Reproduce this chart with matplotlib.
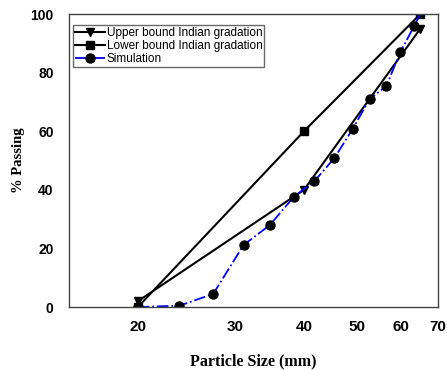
import matplotlib
matplotlib.use("Agg")
import matplotlib.pyplot as plt
from matplotlib.ticker import FixedLocator, NullLocator

# Datos
upper_x = [20, 40, 65]
upper_y = [2, 40, 95]

lower_x = [20, 40, 65]
lower_y = [0, 60, 100]

sim_x = [20, 23.8, 27.4, 31.1, 34.7, 38.3, 41.8, 45.4, 49.0, 52.6, 56.4, 59.8, 63.4, 65]
sim_y = [0, 0.5, 4.5, 21.2, 28, 37.5, 43, 50.8, 60.7, 71, 75.4, 87, 96, 100]

x_ticks = [20, 30, 40, 50, 60, 70]
y_ticks = [0, 20, 40, 60, 80, 100]

plt.rcParams['font.family'] = ['Liberation Sans', 'DejaVu Sans']

fig, ax = plt.subplots(figsize=(4.47, 3.70), dpi=100)
fig.subplots_adjust(left=0.154, right=0.98, top=0.962, bottom=0.170)

ax.plot(upper_x, upper_y, color='black', lw=1.5, marker='v', ms=6,
        label='Upper bound Indian gradation')
ax.plot(lower_x, lower_y, color='black', lw=1.5, marker='s', ms=6,
        label='Lower bound Indian gradation')
ax.plot(sim_x, sim_y, color='blue', lw=1.3, ls='-.', marker='o', ms=6.5,
        mfc='black', mec='black', markevery=list(range(len(sim_x) - 1)),
        label='Simulation')

ax.set_xscale('log')
ax.set_xlim(15, 70)
ax.set_ylim(0, 100)
ax.xaxis.set_major_locator(FixedLocator(x_ticks))
ax.xaxis.set_minor_locator(NullLocator())
ax.set_xticklabels([str(t) for t in x_ticks])
ax.set_yticks(y_ticks)
ax.tick_params(axis='both', length=0)
ax.tick_params(axis='y', pad=11, labelsize=10)
ax.tick_params(axis='x', pad=9, labelsize=11)
for lab in ax.get_xticklabels() + ax.get_yticklabels():
    lab.set_fontweight('bold')

for s in ax.spines.values():
    s.set_color('#444444')
    s.set_linewidth(1.0)

ax.set_xlabel('Particle Size (mm)', family='Liberation Serif', fontweight='bold',
              fontsize=11.5, labelpad=14)
ax.set_ylabel('% Passing', family='Liberation Serif', fontweight='bold',
              fontsize=10.5)
ax.yaxis.set_label_coords(-0.119, 0.5)

leg = ax.legend(loc='upper left', bbox_to_anchor=(0.011, 0.9625),
                fontsize=8.5, frameon=True, fancybox=False,
                handlelength=2.6, handletextpad=0.1, labelspacing=0.1,
                borderpad=0.15, borderaxespad=0.0)
leg.get_frame().set_edgecolor('#444444')
leg.get_frame().set_linewidth(1.0)

plt.savefig('out.png', dpi=100)
